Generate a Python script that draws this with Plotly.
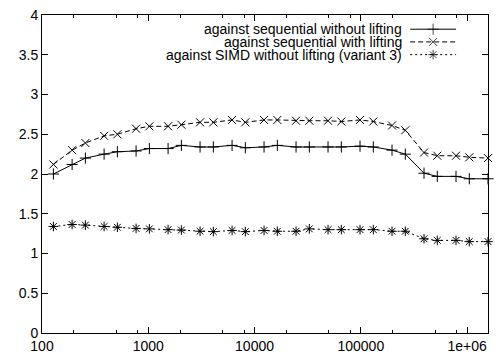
import math
import plotly.graph_objects as go

sizes = [128, 192, 256, 384, 512, 768, 1024, 1536, 2048, 3072, 4096, 6144, 8192,
         12288, 16384, 24576, 32768, 49152, 65536, 98304, 131072, 196608, 262144,
         393216, 524288, 786432, 1048576, 1572864]

seq_no_lift = [2.00, 2.12, 2.20, 2.25, 2.28, 2.29, 2.32, 2.32, 2.36, 2.34, 2.34, 2.36, 2.33,
               2.34, 2.36, 2.34, 2.34, 2.34, 2.34, 2.35, 2.34, 2.30, 2.25, 2.01, 1.97, 1.97,
               1.94, 1.94]
seq_lift = [2.12, 2.30, 2.39, 2.48, 2.50, 2.57, 2.60, 2.60, 2.62, 2.65, 2.65, 2.68, 2.65,
            2.68, 2.68, 2.67, 2.67, 2.67, 2.66, 2.68, 2.66, 2.61, 2.55, 2.27, 2.23, 2.23,
            2.21, 2.20]
simd_no_lift = [1.34, 1.365, 1.357, 1.34, 1.33, 1.315, 1.31, 1.30, 1.295, 1.28, 1.275, 1.29,
                1.275, 1.29, 1.28, 1.28, 1.31, 1.30, 1.30, 1.30, 1.30, 1.28, 1.28, 1.185,
                1.165, 1.165, 1.15, 1.15]

names = ["against sequential without lifting",
         "against sequential with lifting",
         "against SIMD without lifting (variant 3)"]

x_tickvals = [100, 1000, 10000, 100000, 1000000]
x_ticktext = ["100", "1000", "10000", "100000", "1e+06"]
y_tickvals = [0, 0.5, 1, 1.5, 2, 2.5, 3, 3.5, 4]
y_ticktext = ["0", "0.5", "1", "1.5", "2", "2.5", "3", "3.5", "4"]
minor_x = [m * 10 ** d for d in range(2, 7) for m in (2, 5, 8)]

styles = [
    dict(dash="solid", symbol="cross-thin-open"),
    dict(dash="5px,3px", symbol="x-thin-open"),
    dict(dash="2px,3px", symbol="asterisk-open"),
]
series = [seq_no_lift, seq_lift, simd_no_lift]

FONT = "Liberation Sans, Arial, Helvetica, sans-serif"
fig = go.Figure()
for ys, st, nm in zip(series, styles, names):
    fig.add_trace(go.Scatter(
        x=sizes, y=ys, mode="lines+markers", name=nm,
        line=dict(color="black", width=1, dash=st["dash"]),
        marker=dict(symbol=st["symbol"], size=8, color="black",
                    line=dict(color="black", width=1)),
        showlegend=False, cliponaxis=False,
    ))

# custom gnuplot-style legend (text right-aligned, sample on the right)
L, R, T, B = 42, 7, 11, 25
W, H = 496, 361
pw, ph = W - L - R, H - T - B
rows_px = [25.5, 38.5, 51.5]
text_right = (404 - L) / pw
s0, s1 = (411 - L) / pw, (457 - L) / pw
for nm, st, ry in zip(names, styles, rows_px):
    yy = (H - B - ry) / ph
    fig.add_annotation(x=text_right, y=yy, xref="paper", yref="paper", text=nm,
                       showarrow=False, xanchor="right", yanchor="middle",
                       borderpad=0,
                       font=dict(size=14, color="black", family=FONT))
    fig.add_trace(go.Scatter(
        x=[s0, (s0 + s1) / 2, s1], y=[yy, yy, yy], xaxis="x2", yaxis="y2",
        mode="lines+markers",
        line=dict(color="black", width=1, dash=st["dash"]),
        marker=dict(symbol=st["symbol"], size=[0, 8, 0], color="black",
                    line=dict(color="black", width=1)),
        showlegend=False, hoverinfo="skip",
    ))

fig.update_layout(
    width=W, height=H,
    margin=dict(l=L, r=R, t=T, b=B, pad=0),
    paper_bgcolor="white", plot_bgcolor="white",
    font=dict(family=FONT, size=14, color="black"),
    showlegend=False,
    xaxis=dict(type="log", range=[2, math.log10(sizes[-1])],
               tickvals=x_tickvals, ticktext=x_ticktext,
               ticks="inside", ticklen=6, tickcolor="black", tickwidth=1,
               showline=True, linecolor="black", linewidth=1, mirror="ticks",
               showgrid=False, zeroline=False,
               minor=dict(tickvals=minor_x, ticks="inside", ticklen=3,
                          tickcolor="black", tickwidth=1, showgrid=False)),
    yaxis=dict(range=[0, 4], tickvals=y_tickvals, ticktext=y_ticktext,
               ticks="inside", ticklen=6, tickcolor="black", tickwidth=1,
               showline=True, linecolor="black", linewidth=1, mirror="ticks",
               showgrid=False, zeroline=False),
    xaxis2=dict(overlaying="x", range=[0, 1], visible=False, fixedrange=True),
    yaxis2=dict(overlaying="y", range=[0, 1], visible=False, fixedrange=True),
)

fig.write_html("out.html")
